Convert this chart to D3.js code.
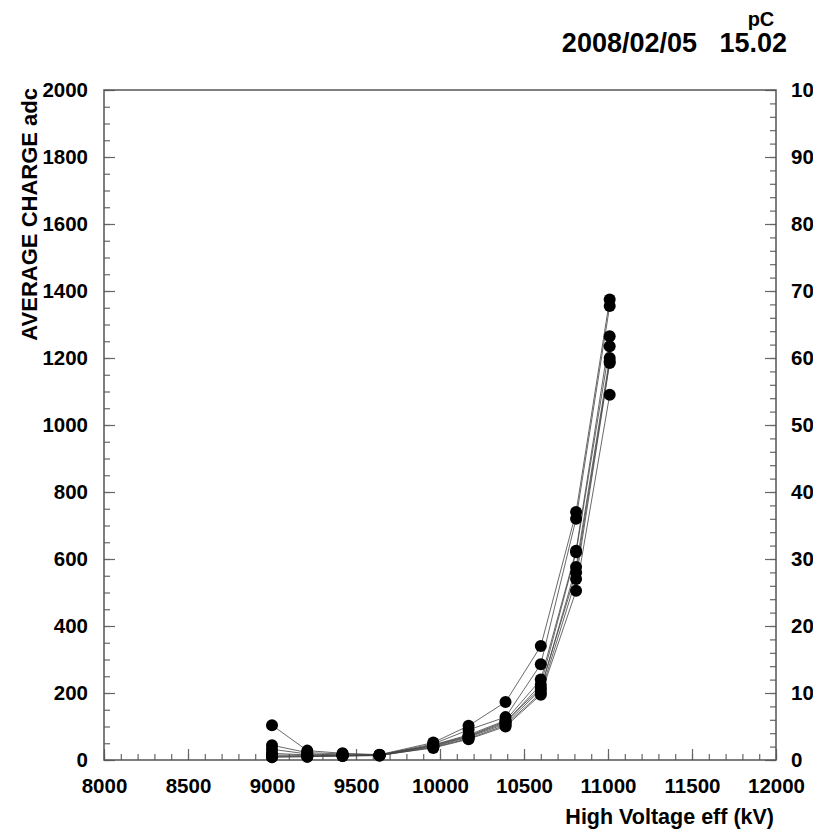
<!DOCTYPE html>
<html>
<head>
<meta charset="utf-8">
<script src="https://cdn.jsdelivr.net/npm/d3@7"></script>
<style>
  body { margin: 0; background: #fff; }
  svg { display: block; font-family: "Liberation Sans", Arial, sans-serif; }
  .axis text { font-weight: bold; font-size: 20.5px; fill: #000; }
  .axis path { display: none; }
  .axis line { stroke: #666; stroke-width: 1.2; }
</style>
</head>
<body>
<div id="chart"></div>
<script>
// High voltage steps (kV eff)
const voltages = [9000, 9210, 9420, 9640, 9960, 10170, 10390, 10600, 10810, 11010]

// average charge (adc), one array per channel
const ch1 = [104, 28, 20, 16, 52, 102, 173, 340, 740, 1375]
const ch2 = [44, 22, 18, 15, 48, 90, 128, 286, 720, 1355]
const ch3 = [32, 18, 15, 14, 45, 75, 118, 240, 625, 1265]
const ch4 = [20, 15, 14, 15, 42, 70, 112, 225, 620, 1235]
const ch5 = [12, 12, 13, 14, 40, 68, 108, 210, 576, 1200]
const ch6 = [10, 10, 12, 13, 38, 64, 104, 200, 540, 1185]
const ch7 = [8, 10, 12, 14, 36, 62, 100, 195, 505, 1090]
const ch8 = [15, 14, 14, 15, 44, 72, 115, 215, 560, 1190]
const channels = [ch1, ch2, ch3, ch4, ch5, ch6, ch7, ch8]

const xTicks = [8000, 8500, 9000, 9500, 10000, 10500, 11000, 11500, 12000]
const yTicks = [0, 200, 400, 600, 800, 1000, 1200, 1400, 1600, 1800, 2000]
const pcTicks = [0, 10, 20, 30, 40, 50, 60, 70, 80, 90, 100]

const dateLabel = '2008/02/05'
const gainLabel = '15.02'

// Dimensions
const dimensions = {
  width: 813,
  height: 829,
  margins: { left: 104, right: 37, top: 90, bottom: 69 },
}
const ctrW = dimensions.width - dimensions.margins.left - dimensions.margins.right
const ctrH = dimensions.height - dimensions.margins.top - dimensions.margins.bottom

// Scales
const xScale = d3.scaleLinear().domain([8000, 12000]).range([0, ctrW])
const yScale = d3.scaleLinear().domain([0, 2000]).range([ctrH, 0])
const pcScale = d3.scaleLinear().domain([0, 100]).range([ctrH, 0])

const svg = d3.select('#chart').append('svg')
  .attr('width', dimensions.width)
  .attr('height', dimensions.height)

const ctr = svg.append('g')
  .attr('transform', `translate(${dimensions.margins.left}, ${dimensions.margins.top})`)

// minor ticks
ctr.append('g').classed('axis', true)
  .attr('transform', `translate(0, ${ctrH})`)
  .call(d3.axisBottom(xScale).tickValues(d3.range(8000, 12001, 100)).tickSize(-6).tickFormat(''))
ctr.append('g').classed('axis', true)
  .call(d3.axisLeft(yScale).tickValues(d3.range(0, 2001, 50)).tickSize(-6).tickFormat(''))
ctr.append('g').classed('axis', true)
  .attr('transform', `translate(${ctrW}, 0)`)
  .call(d3.axisRight(pcScale).tickValues(d3.range(0, 101, 2)).tickSize(-6).tickFormat(''))

// major ticks + labels
ctr.append('g').classed('axis', true)
  .attr('transform', `translate(0, ${ctrH})`)
  .call(d3.axisBottom(xScale).tickValues(xTicks).tickSize(-11).tickPadding(18).tickFormat(d3.format('d')))
ctr.append('g').classed('axis', true)
  .call(d3.axisLeft(yScale).tickValues(yTicks).tickSize(-11).tickPadding(16).tickFormat(d3.format('d')))
ctr.append('g').classed('axis', true)
  .attr('transform', `translate(${ctrW}, 0)`)
  .call(d3.axisRight(pcScale).tickValues(pcTicks).tickSize(-11).tickPadding(15).tickFormat(d3.format('d')))

// frame
ctr.append('rect')
  .attr('width', ctrW)
  .attr('height', ctrH)
  .style('fill', 'none')
  .style('stroke', '#555')
  .style('stroke-width', 1.5)

// lines
const line = d3.line()
  .x((d, i) => xScale(voltages[i]))
  .y((d) => yScale(d))

ctr.selectAll('path.ch')
  .data(channels)
  .join('path')
  .attr('class', 'ch')
  .attr('d', line)
  .style('fill', 'none')
  .style('stroke', '#444')
  .style('stroke-opacity', 0.8)
  .style('stroke-width', 1)

// points
const pts = channels.flatMap((c) => c.map((v, i) => ({ x: voltages[i], y: v })))
ctr.selectAll('circle')
  .data(pts)
  .join('circle')
  .attr('cx', (d) => xScale(d.x))
  .attr('cy', (d) => yScale(d.y))
  .attr('r', 6)
  .style('fill', '#000')

// axis titles
svg.append('text')
  .attr('x', 774)
  .attr('y', 824)
  .attr('text-anchor', 'end')
  .style('font-weight', 'bold')
  .style('font-size', '21.5px')
  .text('High Voltage eff (kV)')

svg.append('text')
  .attr('transform', 'translate(37, 88) rotate(-90)')
  .attr('text-anchor', 'end')
  .style('font-weight', 'bold')
  .style('font-size', '22px')
  .text('AVERAGE CHARGE adc')

// header
svg.append('text')
  .attr('x', 697).attr('y', 52)
  .attr('text-anchor', 'end')
  .style('font-weight', 'bold').style('font-size', '27px')
  .text(dateLabel)
svg.append('text')
  .attr('x', 787).attr('y', 52)
  .attr('text-anchor', 'end')
  .style('font-weight', 'bold').style('font-size', '27px')
  .text(gainLabel)
svg.append('text')
  .attr('x', 761).attr('y', 26)
  .attr('text-anchor', 'middle')
  .style('font-weight', 'bold').style('font-size', '20px')
  .text('pC')
</script>
</body>
</html>
